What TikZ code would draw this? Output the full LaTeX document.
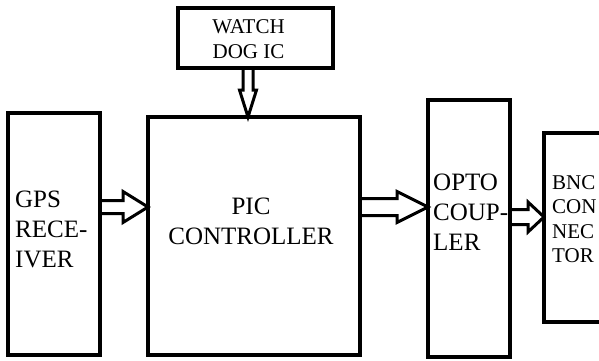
\documentclass[tikz,border=0pt]{standalone}
\usepackage{fontspec}
\setmainfont{Liberation Serif}
\usepackage{tikz}
\usetikzlibrary{calc}
\definecolor{ink}{HTML}{000000}
\definecolor{paper}{HTML}{FFFFFF}
\tikzset{
  box/.style={draw=ink, line width=3.2pt, inner sep=0pt, outer sep=0pt},
  arr/.style={draw=ink, line width=3pt, line join=miter},
  lab/.style={text=ink, inner sep=0pt, align=left, font=\fontsize{25}{30}\selectfont},
  labs/.style={text=ink, inner sep=0pt, align=left, font=\fontsize{21}{24.5}\selectfont},
}
% hollow block arrow: from, to, shaft half width, head half width, head length
\newcommand{\fatarrow}[5]{%
  \coordinate (hb) at ($(#2)!#5!(#1)$);
  \draw[arr] ($(#1)!#3!90:(#2)$) -- ($(hb)!#3!90:(#2)$) -- ($(hb)!#4!90:(#2)$) -- (#2)
    -- ($(hb)!#4!-90:(#2)$) -- ($(hb)!#3!-90:(#2)$) -- ($(#1)!#3!-90:(#2)$);
}

\begin{document}
\begin{tikzpicture}[x=1pt, y=-1pt]
  \useasboundingbox[fill=paper] (0,0) rectangle (599,361);
  \clip (0,0) rectangle (599,361);

  % blocks
  \node[box, minimum width=155pt, minimum height=60pt] (wdog) at (255.5,38) {};
  \node[box, minimum width=92pt, minimum height=242pt] (gps) at (54,234) {};
  \node[box, minimum width=212pt, minimum height=238pt] (pic) at (254,236) {};
  \node[box, minimum width=82pt, minimum height=257pt] (opto) at (469,228.5) {};
  \node[box, minimum width=80pt, minimum height=189pt] (bnc) at (584,227.5) {};

  % texts
  \node[labs, align=center] (wdogtxt) at (248.5,39) {WATCH\\DOG IC};
  \node[lab, anchor=west] (gpstxt) at (15,229) {GPS\\RECE-\\IVER};
  \node[lab, align=center] (pictxt) at (251,221) {PIC\\CONTROLLER};
  \node[lab, anchor=west] (optotxt) at (433,212) {OPTO\\COUP-\\LER};
  \node[labs, anchor=west] (bnctxt) at (552,219) {BNC\\CON\\NEC\\TOR};

  % connectors
  \coordinate (wd) at (248,0);
  \coordinate (l1) at (0,207);
  \coordinate (l2) at (0,207);
  \coordinate (l3) at (0,217);
  \coordinate (v1s) at (wd |- wdog.south);
  \coordinate (v1e) at (wd |- pic.north);
  \coordinate (a1s) at (gps.east |- l1);
  \coordinate (a1e) at (pic.west |- l1);
  \coordinate (a2s) at (pic.east |- l2);
  \coordinate (a2e) at (opto.west |- l2);
  \coordinate (a3s) at (opto.east |- l3);
  \coordinate (a3e) at (bnc.west |- l3);
  \fatarrow{v1s}{v1e}{5pt}{8.5pt}{27pt}
  \fatarrow{a1s}{a1e}{6.5pt}{15.5pt}{25pt}
  \fatarrow{a2s}{a2e}{8.5pt}{15.5pt}{31pt}
  \fatarrow{a3s}{a3e}{7.5pt}{15pt}{16pt}
\end{tikzpicture}
\end{document}
